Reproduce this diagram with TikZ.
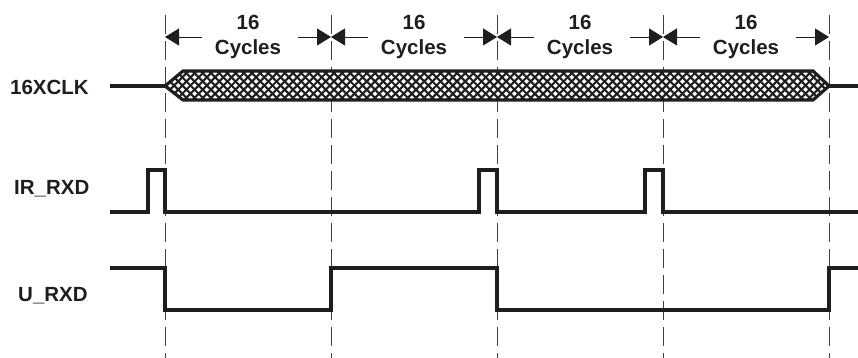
\documentclass[tikz,border=0pt]{standalone}
\usepackage{fontspec}
\setmainfont{Liberation Sans}
\usetikzlibrary{arrows.meta}
\definecolor{ink}{HTML}{1E1E1E}
\tikzset{
  sig/.style={line width=3.2pt, color=ink, line join=miter},
  guide/.style={line width=0.8pt, color=ink!85, dash pattern=on 19pt off 7pt},
  dim/.style={line width=0.9pt, color=ink, -{Triangle[length=14pt,width=17pt]}},
  lbl/.style={font=\fontsize{20.5}{24}\selectfont\bfseries, text=ink, inner sep=0pt},
  txt/.style={font=\fontsize{20.5}{24}\selectfont\bfseries, text=ink, inner sep=0pt, anchor=base},
}
\begin{document}
\begin{tikzpicture}[x=1pt,y=-1pt]
\useasboundingbox (0,0) rectangle (858,358);
% boundaries
\foreach \i/\x in {0/165,1/331,2/497,3/663,4/829}{
  \coordinate (t\i) at (\x,37);
  \draw[guide] (\x,15) -- (\x,358);
}
% dimension arrows
\foreach \a/\b/\s in {0/1/a,1/2/b,2/3/c,3/4/d}{
  \path (t\a) -- (t\b) coordinate[pos=0.5] (m\s);
  \draw[dim] ([xshift=37pt]t\a) -- (t\a);
  \draw[dim] ([xshift=-33pt]t\b) -- (t\b);
  \node[txt] (n\s) at ([yshift=7.5pt]m\s) {16};
  \node[txt] (c\s) at ([yshift=-17.5pt]m\s) {Cycles};
}
% labels
\node[lbl, anchor=west] (l1) at (10,87) {16XCLK};
\node[lbl, anchor=west] (l2) at (14,189) {IR\_RXD};
\node[lbl, anchor=west] (l3) at (18,296) {U\_RXD};
% 16XCLK
\draw[sig] (110,86) -- (165,86);
\draw[sig] (829,86) -- (858,86);
\begin{scope}
  \clip (165,86) -- (183,71) -- (813,71) -- (829,86) -- (813,100) -- (183,100) -- cycle;
  \fill[white] (160,65) rectangle (835,105);
  \foreach \k in {0,...,90}{
    \pgfmathsetmacro{\xx}{135+8.2*\k}
    \draw[line width=2.1pt, color=ink] (\xx,71) -- (\xx+29,100);
    \draw[line width=2.1pt, color=ink] (\xx+29,71) -- (\xx,100);
  }
\end{scope}
\draw[sig] (165,86) -- (183,71) -- (813,71) -- (829,86) -- (813,100) -- (183,100) -- cycle;
% IR_RXD
\draw[sig] (110,212) -- (148,212) -- (148,170) -- (165,170) -- (165,212)
  -- (479,212) -- (479,170) -- (497,170) -- (497,212)
  -- (645,212) -- (645,170) -- (663,170) -- (663,212) -- (858,212);
% U_RXD
\draw[sig] (110,268) -- (165,268) -- (165,310) -- (331,310) -- (331,268)
  -- (497,268) -- (497,310) -- (829,310) -- (829,268) -- (858,268);
\end{tikzpicture}
\end{document}
